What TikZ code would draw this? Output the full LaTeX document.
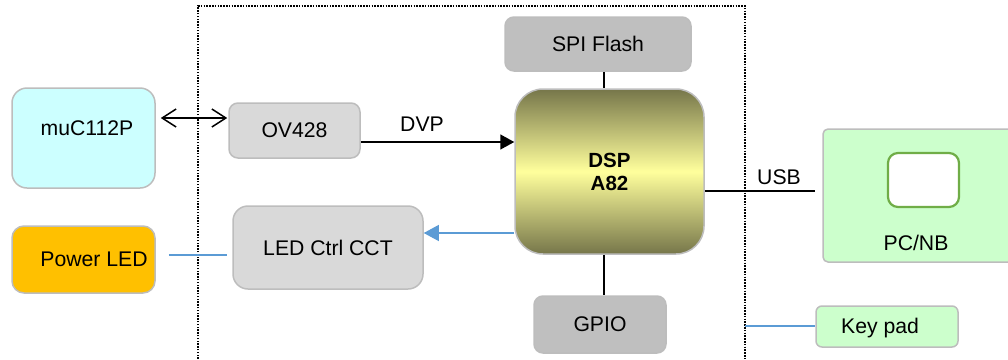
\documentclass[tikz,border=0pt]{standalone}
\usepackage{fontspec}
\setmainfont{Liberation Sans}
\usetikzlibrary{arrows.meta}
\definecolor{cyanfill}{HTML}{CCFFFF}
\definecolor{orangefill}{HTML}{FFC000}
\definecolor{lgray}{HTML}{D9D9D9}
\definecolor{mgray}{HTML}{BFBFBF}
\definecolor{edgegray}{HTML}{BDBDBD}
\definecolor{lgreen}{HTML}{CCFFCC}
\definecolor{dgreen}{HTML}{70AD47}
\definecolor{bluel}{HTML}{5B9BD5}
\definecolor{olive}{HTML}{76764A}
\definecolor{paleyellow}{HTML}{FFFF9C}
\tikzset{
  box/.style={draw=edgegray, line width=1.5pt, inner sep=0pt, anchor=center},
  txt/.style={font=\fontsize{21.2}{23}\selectfont, inner sep=0pt, anchor=center, align=center},
  conn/.style={line width=1.5pt, draw=black},
  blueconn/.style={line width=1.2pt, draw=bluel},
  barbtip/.tip={Straight Barb[length=14pt,width=18pt,line width=1.5pt]},
}
\begin{document}
\begin{tikzpicture}[x=1pt,y=-1pt]
\useasboundingbox (0,0) rectangle (1008,359);
\begin{scope}
\clip (0,0) rectangle (1008,359);
% dotted frame
\coordinate (fBL) at (198,370);
\coordinate (fTL) at (198,6);
\coordinate (fTR) at (745,6);
\coordinate (fBR) at (745,370);
\draw[line width=1.7pt, dash pattern=on 1.5pt off 1.3pt] (fBL) -- (fTL) -- (fTR) -- (fBR);
\coordinate (boxR) at (745,326);

% boxes
\node[box, fill=cyanfill, minimum width=143pt, minimum height=100pt, rounded corners=15pt] (muc) at (83.5,138) {};
\node[txt] (muct) at (87,128) {muC112P};
\node[box, fill=orangefill, minimum width=143pt, minimum height=67pt, rounded corners=12pt] (power) at (83.5,259.5) {};
\node[txt] (powert) at (94,259) {Power LED};
\node[box, fill=lgray, minimum width=131pt, minimum height=55pt, rounded corners=9pt, txt] (ov) at (294.5,130.5) {OV428};
\node[box, fill=lgray, minimum width=190pt, minimum height=83pt, rounded corners=15pt, txt] (led) at (328,247.5) {LED Ctrl CCT};
\node[box, fill=mgray, minimum width=186pt, minimum height=54pt, rounded corners=9pt, txt] (spi) at (598,44) {SPI Flash};
\node[box, fill=mgray, minimum width=132pt, minimum height=57pt, rounded corners=9pt, txt] (gpio) at (600,324.5) {GPIO};
\node[box, top color=olive, bottom color=olive, middle color=paleyellow, minimum width=189pt, minimum height=165pt, rounded corners=28pt, txt, font=\fontsize{20.5}{23}\selectfont\bfseries] (dsp) at (609.5,171.5) {DSP\\A82};
\node[box, fill=lgreen, minimum width=217pt, minimum height=133pt, rounded corners=5pt] (pc) at (931.5,195.5) {};
\node[draw=dgreen, line width=2.2pt, fill=white, minimum width=71pt, minimum height=54pt, rounded corners=10pt, inner sep=0pt] (screen) at (923.5,180) {};
\node[txt] (pct) at (916,243) {PC/NB};
\node[box, fill=lgreen, minimum width=142pt, minimum height=41pt, rounded corners=6pt] (key) at (887,326.5) {};
\node[txt] (keyt) at (880,328) {Key pad};

% labels
\node[txt] (dvp) at (422,124) {DVP};
\node[txt] (usb) at (779,177) {USB};

% connectors
\draw[conn, {barbtip}-{barbtip}, shorten <=5pt, shorten >=1pt] (muc.east |- 0,118) -- (ov.west |- 0,118);
\draw[conn, -{Triangle[length=14pt,width=15pt]}] (ov.east |- 0,142) -- (dsp.west |- 0,142);
\draw[conn] (spi.south -| 604,0) -- (dsp.north -| 604,0);
\draw[conn] (dsp.south -| 604,0) -- (gpio.north -| 604,0);
\draw[conn, shorten >=7pt] (dsp.east |- 0,191) -- (pc.west |- 0,191);
\draw[blueconn, -{Triangle[length=15pt,width=16pt]}] (dsp.west |- 0,233) -- (led.east |- 0,233);
\draw[blueconn, shorten <=13pt, shorten >=5pt] (power.east |- 0,255) -- (led.west |- 0,255);
\draw[blueconn] (boxR) -- (key.west |- boxR);
\end{scope}
\end{tikzpicture}
\end{document}
